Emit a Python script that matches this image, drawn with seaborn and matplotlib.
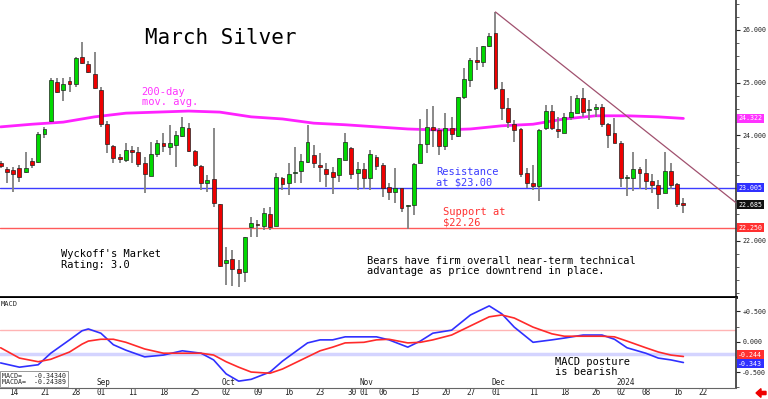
import numpy as np
import pandas as pd
import seaborn as sns
import matplotlib.pyplot as plt
import matplotlib.transforms as mtransforms
from matplotlib.ticker import MultipleLocator, FuncFormatter
from matplotlib.patches import FancyArrow

# daily candles, Aug 11 2023 .. Jan 18 2024 (trading-day index)
opens = [23.47, 23.36, 23.34, 23.38, 23.30, 23.51, 23.49, 24.03, 24.27, 25.01,
         24.86, 25.03, 24.97, 25.49, 25.35, 25.16, 24.86, 24.21, 23.80, 23.59,
         23.53, 23.72, 23.68, 23.47, 23.23, 23.65, 23.85, 23.78, 23.82, 23.99,
         24.14, 23.70, 23.42, 23.10, 23.17, 22.70, 21.58, 21.65, 21.46, 21.40,
         22.26, 22.32, 22.28, 22.51, 22.28, 23.19, 23.10, 23.28, 23.32, 23.49,
         23.63, 23.44, 23.36, 23.30, 23.25, 23.53, 23.76, 23.28, 23.36, 23.19,
         23.59, 23.44, 23.02, 22.93, 23.00, 22.66, 22.68, 23.47, 23.84, 24.16,
         24.10, 23.80, 24.14, 23.99, 24.73, 25.05, 25.43, 25.39, 25.69, 25.94,
         24.88, 24.52, 24.21, 24.12, 23.28, 23.10, 23.04, 24.14, 24.46, 24.12,
         24.04, 24.35, 24.42, 24.71, 24.48, 24.50, 24.54, 24.21, 24.04, 23.85,
         23.19, 23.19, 23.36, 23.28, 23.13, 23.06, 22.91, 23.32, 23.08, 22.70]
highs = [23.51, 23.40, 23.40, 23.44, 23.68, 23.57, 24.06, 24.16, 25.09, 25.09,
         25.09, 25.11, 25.49, 25.77, 25.41, 25.58, 24.92, 24.27, 23.82, 23.65,
         23.85, 23.80, 23.78, 23.59, 23.87, 23.91, 24.04, 24.20, 24.08, 24.35,
         24.23, 23.72, 23.44, 23.25, 24.14, 22.70, 21.88, 21.82, 21.63, 22.07,
         22.45, 22.39, 22.62, 22.64, 23.28, 23.21, 23.47, 23.78, 23.65, 24.20,
         23.82, 23.66, 23.47, 23.40, 23.57, 24.05, 23.78, 23.49, 23.47, 23.72,
         23.63, 23.47, 23.10, 23.38, 23.00, 22.68, 23.47, 24.31, 24.50, 24.56,
         24.14, 24.42, 24.35, 24.73, 25.28, 25.47, 25.68, 25.69, 25.94, 26.34,
         25.01, 24.71, 24.29, 24.14, 23.38, 23.44, 24.12, 24.58, 24.58, 24.35,
         24.42, 24.75, 24.77, 24.90, 24.67, 24.59, 24.59, 24.23, 24.33, 23.89,
         23.25, 23.68, 23.40, 23.55, 23.27, 23.15, 23.68, 23.47, 23.10, 22.81]
lows = [23.38, 23.10, 22.92, 23.11, 23.28, 23.38, 23.47, 23.95, 24.25, 24.80,
        24.65, 24.82, 24.92, 25.35, 25.18, 24.88, 24.16, 23.66, 23.47, 23.47,
        23.49, 23.47, 23.40, 22.90, 23.22, 23.59, 23.68, 23.63, 23.40, 23.97,
        23.68, 23.40, 22.96, 22.92, 22.64, 21.50, 21.16, 21.14, 21.12, 21.22,
        22.07, 22.07, 22.20, 22.20, 22.28, 22.96, 22.87, 23.10, 23.10, 23.47,
        23.38, 23.11, 23.02, 22.89, 23.11, 23.53, 23.17, 22.96, 22.98, 22.96,
        23.34, 22.83, 22.77, 22.72, 22.55, 22.23, 22.49, 23.47, 23.66, 23.78,
        23.63, 23.72, 23.91, 23.97, 24.69, 24.92, 25.24, 25.30, 25.68, 24.86,
        24.29, 24.14, 23.87, 23.21, 23.00, 22.96, 22.75, 24.10, 24.10, 23.95,
        24.04, 24.29, 24.42, 24.35, 24.29, 24.35, 24.16, 23.76, 23.85, 23.02,
        22.85, 22.94, 22.98, 22.96, 22.91, 22.60, 22.91, 22.98, 22.64, 22.53]
closes = [23.42, 23.30, 23.27, 23.21, 23.38, 23.44, 24.02, 24.12, 25.05, 24.82,
          24.97, 24.97, 25.47, 25.37, 25.20, 24.90, 24.21, 23.84, 23.57, 23.55,
          23.72, 23.68, 23.46, 23.27, 23.65, 23.85, 23.80, 23.85, 24.01, 24.16,
          23.70, 23.44, 23.10, 23.15, 22.72, 21.52, 21.63, 21.46, 21.39, 22.07,
          22.33, 22.30, 22.53, 22.26, 23.21, 23.08, 23.27, 23.30, 23.51, 23.87,
          23.47, 23.40, 23.27, 23.21, 23.57, 23.87, 23.27, 23.36, 23.19, 23.65,
          23.42, 23.00, 22.92, 23.00, 22.62, 22.68, 23.46, 23.84, 24.16, 24.10,
          23.80, 24.14, 24.03, 24.73, 25.07, 25.43, 25.39, 25.69, 25.88, 24.90,
          24.52, 24.25, 24.10, 23.27, 23.10, 23.04, 24.10, 24.46, 24.14, 24.08,
          24.35, 24.44, 24.71, 24.44, 24.50, 24.54, 24.21, 24.01, 23.85, 23.19,
          23.21, 23.36, 23.28, 23.13, 23.06, 22.89, 23.32, 23.06, 22.69, 22.685]

# 200-day moving average, read every 5 sessions
ma_k = [0, 5, 10, 15, 20, 25, 30, 35, 40, 45, 50, 55, 60, 65, 70, 75, 80, 85,
        90, 95, 100, 105, 109]
ma_vals = [24.16, 24.21, 24.25, 24.35, 24.42, 24.44, 24.46, 24.44, 24.35,
           24.31, 24.23, 24.20, 24.16, 24.12, 24.10, 24.12, 24.18, 24.21,
           24.31, 24.37, 24.37, 24.35, 24.32]

# MACD panel
macd_k = [0, 3, 6, 8, 11, 13, 14, 16, 18, 20, 23, 26, 29, 32, 34, 36, 38, 40,
          43, 45, 47, 49, 51, 53, 55, 58, 60, 62, 65, 67, 69, 72, 75, 78, 80,
          82, 85, 88, 90, 93, 96, 98, 100, 103, 105, 107, 109]
macd_vals = [-0.35, -0.42, -0.38, -0.19, 0.03, 0.18, 0.21, 0.14, -0.05, -0.14,
             -0.25, -0.22, -0.15, -0.19, -0.30, -0.53, -0.65, -0.62, -0.50,
             -0.32, -0.17, -0.02, 0.03, 0.03, 0.08, 0.08, 0.08, 0.03, -0.09,
             0.01, 0.14, 0.19, 0.44, 0.59, 0.46, 0.24, -0.01, 0.03, 0.06, 0.11,
             0.11, 0.04, -0.10, -0.19, -0.27, -0.30, -0.343]
signal_vals = [-0.10, -0.27, -0.33, -0.29, -0.17, -0.04, 0.01, 0.04, 0.04,
               -0.01, -0.12, -0.19, -0.19, -0.19, -0.22, -0.33, -0.42, -0.50,
               -0.52, -0.45, -0.35, -0.25, -0.15, -0.09, -0.02, -0.01, 0.03,
               0.04, -0.02, -0.01, 0.03, 0.11, 0.26, 0.41, 0.44, 0.39, 0.24,
               0.13, 0.09, 0.09, 0.09, 0.08, 0.01, -0.10, -0.17, -0.22, -0.244]

resistance = 23.005
support = 22.25
last_price = 22.685
ma_last = 24.322
trend_k = [79, 117.4]
trend_p = [26.34, 22.72]

tick_k = [1, 6, 11, 15, 20, 25, 30, 35, 40, 45, 50, 55, 57, 60, 65, 70, 74, 78,
          84, 89, 94, 98, 102, 107, 111]
tick_labels = ['14', '21', '28', '01', '11', '18', '25', '02', '09', '16', '23',
               '30', '01', '06', '13', '20', '27', '01', '11', '18', '26', '02',
               '08', '16', '22']
month_k = [15, 35, 57, 78, 98]
month_labels = ['Sep', 'Oct', 'Nov', 'Dec', '2024']

sns.set_style('white')
plt.rcParams['font.family'] = ['DejaVu Sans Mono', 'DejaVu Sans']

fig = plt.figure(figsize=(7.68, 3.99), dpi=100)
ax = fig.add_axes([0, 1 - 297 / 399, 736 / 768, 297 / 399])
ax2 = fig.add_axes([0, 1 - 388 / 399, 736 / 768, 90 / 399])

df = pd.DataFrame({'k': np.arange(len(opens)), 'open': opens, 'high': highs,
                   'low': lows, 'close': closes})
up = df['close'] >= df['open']
body_lo = np.minimum(df['open'], df['close'])
body_h = np.maximum((df['close'] - df['open']).abs(), 0.025)
colors = np.where(up, '#00d800', '#ee0000')

ax.axhline(resistance, color='#3c3cff', lw=1, zorder=1)
ax.axhline(support, color='#ff5a5a', lw=1, zorder=1)
sns.lineplot(x=ma_k, y=ma_vals, ax=ax, color='#ff22ff', lw=2, zorder=2)
ax.vlines(df['k'], df['low'], df['high'], color='#808080', lw=1.3, zorder=3)
ax.bar(df['k'], body_h, bottom=body_lo, width=0.62, color=colors,
       edgecolor='#202020', linewidth=0.5, zorder=4)
ax.plot(trend_k, trend_p, color='#a0506e', lw=0.9, zorder=5)

ax.set_xlim(-0.1, 117.4)
ax.set_ylim(20.932, 26.567)
ax.set_xticks([])
ax.yaxis.tick_right()
ax.set_yticks([22, 24, 25, 26])
ax.yaxis.set_major_formatter(FuncFormatter(lambda v, p: f'{v:.3f}'))
ax.yaxis.set_minor_locator(MultipleLocator(0.25))
ax.tick_params(axis='y', which='major', length=3, width=0.8, labelsize=4.8,
               colors='#222222', pad=1.5)
ax.tick_params(axis='y', which='minor', length=1.8, width=0.6, color='#444444')
ax.set_xlabel('')
ax.set_ylabel('')
for s in ['top', 'left']:
    ax.spines[s].set_visible(False)
ax.spines['right'].set_color('#333333')
ax.spines['right'].set_linewidth(1.2)
ax.spines['bottom'].set_color('black')
ax.spines['bottom'].set_linewidth(2)

blend = mtransforms.blended_transform_factory(ax.transAxes, ax.transData)


def price_tag(axis, trans, value, text, bg, dy=0):
    axis.annotate(text, xy=(1, value), xycoords=trans, xytext=(1.5, dy),
                  textcoords='offset points', ha='left', va='center',
                  fontsize=4.8, color='white', annotation_clip=False, zorder=10,
                  bbox=dict(boxstyle='square,pad=0.22', fc=bg, ec='none'))


price_tag(ax, blend, ma_last, f'{ma_last:.3f}', '#ff33ff')
price_tag(ax, blend, resistance, f'{resistance:.3f}', '#3030ff')
price_tag(ax, blend, last_price, f'{last_price:.3f}', '#111111')
price_tag(ax, blend, support, f'{support:.3f}', '#ff3030')

ax.text(23.1, 25.85, 'March Silver', fontsize=15, ha='left', va='center', color='black')
ax.text(22.5, 24.92, '200-day\nmov. avg.', fontsize=7.5, color='#ff33ff',
        ha='left', va='top', linespacing=1.05)
ax.text(69.5, 23.40, 'Resistance\nat $23.00', fontsize=7.5, color='#3c3cff',
        ha='left', va='top', linespacing=1.05)
ax.text(70.7, 22.64, 'Support at\n$22.26', fontsize=7.5, color='#ff3030',
        ha='left', va='top', linespacing=1.05)
ax.text(9.6, 21.84, "Wyckoff's Market\nRating: 3.0", fontsize=7.5, color='black',
        ha='left', va='top', linespacing=1.05)
ax.text(58.5, 21.71, 'Bears have firm overall near-term technical\n'
        'advantage as price downtrend in place.', fontsize=7.5, color='black',
        ha='left', va='top', linespacing=1.05)

# MACD panel
ax2.axhline(0.19, color='#ffb4b4', lw=1, zorder=1)
ax2.axhline(-0.21, color='#d4d4ff', lw=2.5, zorder=1)
sns.lineplot(x=macd_k, y=signal_vals, ax=ax2, color='#ff2a2a', lw=1.2, zorder=3)
sns.lineplot(x=macd_k, y=macd_vals, ax=ax2, color='#3030ff', lw=1.2, zorder=2)
ax2.set_xlim(-0.1, 117.4)
ax2.set_ylim(-0.763, 0.72)
ax2.yaxis.tick_right()
ax2.set_yticks([0.5, 0, -0.5])
ax2.yaxis.set_major_formatter(FuncFormatter(lambda v, p: f'{v:+.3f}' if v > 0 else f'{v:.3f}'))
ax2.yaxis.set_minor_locator(MultipleLocator(0.25))
ax2.tick_params(axis='y', which='major', length=3, width=0.8, labelsize=4.8,
                colors='#222222', pad=1.5)
ax2.tick_params(axis='y', which='minor', length=1.8, width=0.6, color='#444444')
ax2.set_xticks(tick_k)
ax2.set_xticklabels(tick_labels)
ax2.tick_params(axis='x', length=6.5, width=0.8, color='#555555', direction='out',
                pad=-6.5, labelsize=5.5, labelcolor='#222222')
offset = mtransforms.ScaledTranslation(1.5 / 72, 0, fig.dpi_scale_trans)
for lab in ax2.get_xticklabels():
    lab.set_horizontalalignment('left')
    lab.set_transform(lab.get_transform() + offset)
ax2.set_xlabel('')
ax2.set_ylabel('')
for s in ['top', 'left']:
    ax2.spines[s].set_visible(False)
ax2.spines['right'].set_color('#333333')
ax2.spines['right'].set_linewidth(1.2)
ax2.spines['bottom'].set_color('#666666')
ax2.spines['bottom'].set_linewidth(0.8)

mblend = mtransforms.blended_transform_factory(ax2.transData, ax2.transAxes)
for mk, ml in zip(month_k, month_labels):
    ax2.text(mk, 0.01, ml, transform=mblend + offset, fontsize=5.5, ha='left',
             va='bottom', color='#222222')

blend2 = mtransforms.blended_transform_factory(ax2.transAxes, ax2.transData)
price_tag(ax2, blend2, signal_vals[-1], f'{signal_vals[-1]:.3f}', '#ff3030', dy=1.2)
price_tag(ax2, blend2, macd_vals[-1], f'{macd_vals[-1]:.3f}', '#3030ff', dy=-0.9)

ax2.text(0.001, 0.97, 'MACD', transform=ax2.transAxes, fontsize=5, va='top', ha='left')
ax2.text(0.003, 0.03, 'MACD=   -0.34340\nMACDA=  -0.24389', transform=ax2.transAxes,
         fontsize=4.8, va='bottom', ha='left', linespacing=1.1,
         bbox=dict(boxstyle='square,pad=0.3', fc='white', ec='#888888', lw=0.6))
ax2.text(88.5, -0.25, 'MACD posture\nis bearish', fontsize=7.5, color='black',
         ha='left', va='top', linespacing=1.05)

fig.add_artist(FancyArrow(766 / 768, 6 / 399, -10 / 768, 0, width=0.008,
                          head_width=0.022, head_length=5 / 768,
                          length_includes_head=True, transform=fig.transFigure,
                          color='#ee0000'))

fig.savefig('out.png', dpi=100)
